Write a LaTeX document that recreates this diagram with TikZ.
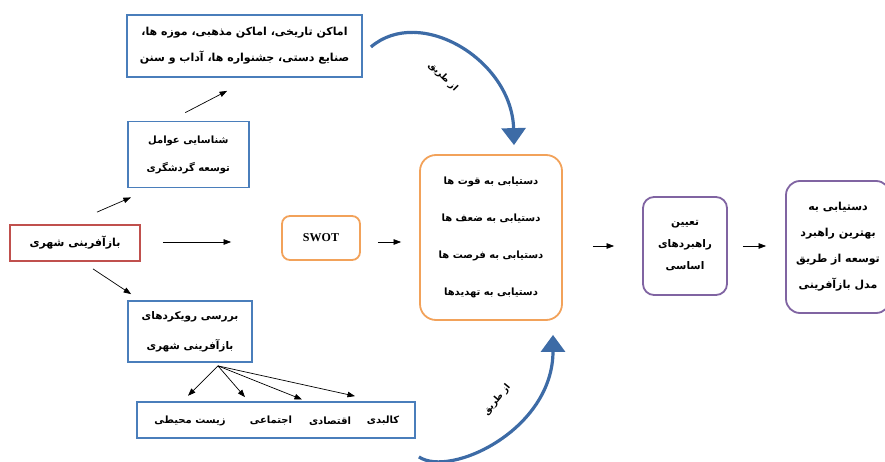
\documentclass[tikz,border=0pt]{standalone}
\usepackage{fontspec}
\setmainfont{Liberation Serif}
\newfontfamily\arabicfont[Script=Arabic]{DejaVu Sans}
\TeXXeTstate=1
\usetikzlibrary{arrows.meta,calc}
\newcommand\prs[1]{{\arabicfont\bfseries\beginR #1\endR}}
\definecolor{boxblue}{HTML}{4A7EBB}
\definecolor{arcblue}{HTML}{3D6BA6}
\definecolor{boxred}{HTML}{C0504D}
\definecolor{boxorange}{HTML}{F2A25A}
\definecolor{boxpurple}{HTML}{8064A2}
\tikzset{
  basebox/.style={line width=1.8pt, fill=white, inner sep=0pt, align=center},
  bluebox/.style={basebox, draw=boxblue},
  redbox/.style={basebox, draw=boxred},
  orangebox/.style={basebox, draw=boxorange, rounded corners=#1},
  purplebox/.style={basebox, draw=boxpurple, rounded corners=#1},
  word/.style={inner sep=0pt, font=\fontsize{10}{12}\selectfont},
  thin arrow/.style={line width=0.7pt, -{Triangle[width=5.5pt,length=7.5pt]}},
  thick arc/.style={draw=arcblue, line width=3.2pt, -{Triangle[width=24pt,length=17pt]}},
  arclabel/.style={inner sep=0pt, font=\fontsize{9}{11}\selectfont}
}
\begin{document}
\begin{tikzpicture}[x=1pt,y=-1pt]
\useasboundingbox (0,0) rectangle (885,462);

% boxes
\node[bluebox, minimum width=235pt, minimum height=62pt, font=\fontsize{11}{26}\selectfont] (top) at (244.5,46)
  {\prs{اماکن تاریخی، اماکن مذهبی، موزه ها،}\\\prs{صنایع دستی، جشنواره ها، آداب و سنن}};
\node[bluebox, minimum width=121pt, minimum height=66pt, font=\fontsize{10}{28}\selectfont] (fac) at (188.3,154.5)
  {\prs{شناسایی عوامل}\\\prs{توسعه گردشگری}};
\node[redbox, minimum width=130pt, minimum height=36pt, font=\fontsize{11}{14}\selectfont] (reg) at (75,243)
  {\prs{بازآفرینی شهری}};
\node[bluebox, minimum width=124pt, minimum height=61pt, font=\fontsize{10.5}{30}\selectfont] (app) at (190,331.5)
  {\prs{بررسی رویکردهای}\\\prs{بازآفرینی شهری}};
\node[bluebox, minimum width=278pt, minimum height=36pt] (dims) at (276,420) {};
\node[word] (w1) at (383,421) {\prs{کالبدی}};
\node[word] (w2) at (330,421) {\prs{اقتصادی}};
\node[word] (w3) at (271,421) {\prs{اجتماعی}};
\node[word] (w4) at (190,421) {\prs{زیست محیطی}};

\node[orangebox=8pt, minimum width=78pt, minimum height=44pt, font=\fontsize{12}{14}\selectfont\bfseries] (swot) at (321,238) {SWOT};
\node[orangebox=16pt, minimum width=142pt, minimum height=165pt, font=\fontsize{10}{37}\selectfont] (big) at (491,237.5)
  {\prs{دستیابی به قوت ها}\\\prs{دستیابی به ضعف ها}\\\prs{دستیابی به فرصت ها}\\\prs{دستیابی به تهدیدها}};
\node[purplebox=11pt, minimum width=84pt, minimum height=98pt, font=\fontsize{10.5}{22}\selectfont] (p1) at (685,246)
  {\prs{تعیین}\\\prs{راهبردهای}\\\prs{اساسی}};
\node[purplebox=14pt, minimum width=104pt, minimum height=132pt, font=\fontsize{11}{26}\selectfont] (p2) at (838,247)
  {\prs{دستیابی به}\\\prs{بهترین راهبرد}\\\prs{توسعه از طریق}\\\prs{مدل بازآفرینی}};

% thin arrows
\draw[thin arrow] ($(reg.north)+(22,-12)$) -- ($(fac.south west)+(4,9)$);
\draw[thin arrow] ($(fac.north)+(-3,-8)$) -- ($(top.south west)+(101,13)$);
\draw[thin arrow] ($(reg.south)+(18,7)$) -- ($(app.north west)+(4,-6)$);
\draw[thin arrow] ($(reg.east)+(22,-1)$) -- ($(swot.west)+(-50,4)$);
\draw[thin arrow] ($(swot.east)+(17,4)$) -- ($(big.west)+(-18,4.5)$);
\draw[thin arrow] ($(big.east)+(30,8.5)$) -- ($(p1.west)+(-28,0)$);
\draw[thin arrow] ($(p1.east)+(15,0)$) -- ($(p2.west)+(-19,-1)$);

\coordinate (fork) at ($(app.south)+(28,3)$);
\draw[thin arrow] (fork) -- ($(w4.north)+(-2,-20)$);
\draw[thin arrow] (fork) -- ($(w3.north)+(-26,-19)$);
\draw[thin arrow] (fork) -- ($(w2.north)+(-28,-17)$);
\draw[thin arrow] (fork) -- ($(w1.north)+(-28,-20)$);

% thick curved arrows
\draw[thick arc] ($(top.east)+(8,1)$) .. controls (420,5) and (512,60) .. ($(big.north)+(23,-9)$);
\draw[thick arc] ($(dims.south east)+(3,18)$) .. controls (450,478) and (553,430) .. ($(big.south)+(62,14)$);

\node[arclabel, rotate=-45] (lab1) at (443,77) {\prs{از طریق}};
\node[arclabel, rotate=50] (lab2) at (497,400) {\prs{از طریق}};
\end{tikzpicture}
\end{document}
